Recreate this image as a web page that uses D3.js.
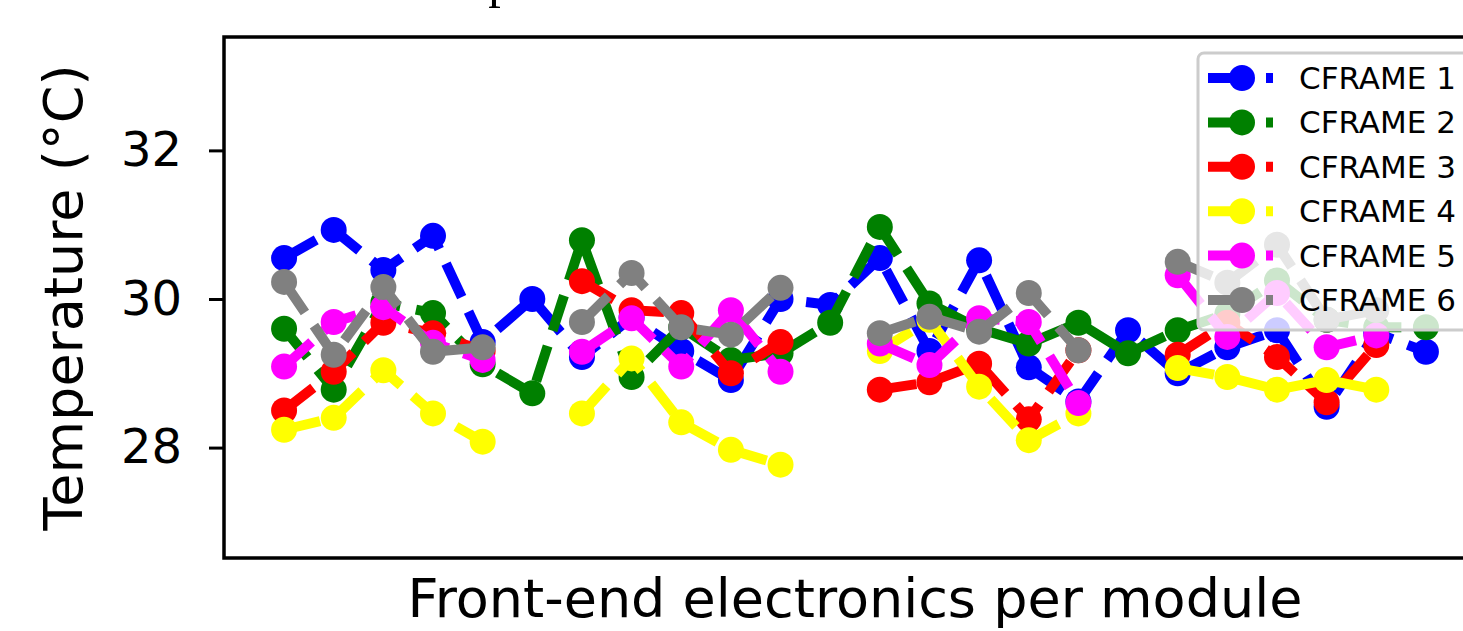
<!DOCTYPE html>
<html>
<head>
<meta charset="utf-8">
<script src="https://cdn.jsdelivr.net/npm/d3@7"></script>
<style>
    body { margin: 0; background: #fff; }
    svg { display: block; }
    text { font-family: "DejaVu Sans", sans-serif; }
</style>
</head>
<body>
<svg id="SVG_CONTAINER" width="1463" height="631"></svg>
<script>
// modules along the x axis (index), null = no reading
const modules = d3.range(24);
const seriesNames = ["CFRAME 1", "CFRAME 2", "CFRAME 3", "CFRAME 4", "CFRAME 5", "CFRAME 6"];
const seriesColours = ["#0000ff", "#008000", "#ff0000", "#ffff00", "#ff00ff", "#808080"];
const yTicks = [28, 30, 32];

const cframe1 = [30.55, 30.93, 30.39, 30.85, 29.42, 30.0, 29.22, 29.75, 29.3, 28.91, 30.0, 29.92,
                 30.55, 29.3, 30.52, 29.08, 28.62, 29.58, 29.0, 29.35, 29.58, 28.55, 29.54, 29.29];
const cframe2 = [29.6, 28.78, 29.95, 29.81, 29.12, 28.73, 30.79, 28.95, 29.62, 29.18, 29.27, 29.68,
                 30.97, 29.94, 29.6, 29.4, 29.68, 29.27, 29.58, 29.8, 30.25, 29.72, 29.62, 29.62];
const cframe3 = [28.5, 29.02, 29.68, 29.54, 29.3, null, 30.24, 29.85, 29.81, 29.0, 29.42, null,
                 28.78, 28.88, 29.13, 28.38, 29.31, null, 29.25, 29.68, 29.22, 28.61, 29.38, null];
const cframe4 = [28.24, 28.4, 29.04, 28.46, 28.08, null, 28.46, 29.2, 28.34, 27.97, 27.77, null,
                 29.3, 29.72, 28.82, 28.1, 28.46, null, 29.07, 28.95, 28.78, 28.91, 28.78, null];
const cframe5 = [29.09, 29.69, 29.89, 29.41, 29.18, null, 29.29, 29.74, 29.09, 29.85, 29.02, null,
                 29.4, 29.11, 29.74, 29.69, 28.6, null, 30.32, 29.49, 30.08, 29.35, 29.51, null];
const cframe6 = [30.23, 29.25, 30.16, 29.29, 29.35, null, 29.69, 30.35, 29.62, 29.52, 30.15, null,
                 29.54, 29.76, 29.56, 30.08, 29.31, null, 30.5, 30.22, 30.73, 29.72, 29.85, null];
const allSeries = [cframe1, cframe2, cframe3, cframe4, cframe5, cframe6];

const MARGIN = { LEFT: 224, RIGHT: 1486, TOP: 37, BOTTOM: 558 };
const LW = 10, DASH = "37,16", R = 13;

let svg = d3.select("#SVG_CONTAINER");

//** SCALES *****************************************
let xScale = d3.scaleLinear()
    .domain([-1.21, 24.21])
    .range([MARGIN.LEFT, MARGIN.RIGHT]);

let yScale = d3.scaleLinear()
    .domain([26.514, 33.526])
    .range([MARGIN.BOTTOM, MARGIN.TOP]);

// title, mostly cut off at the top of the picture
svg.append("text")
    .attr("x", 400)
    .attr("y", -3)
    .style("font-family", "'Liberation Serif', serif")
    .style("font-size", "50px")
    .text("Temperature");

//** LINES *****************************************
let chart = svg.append("g").attr("class", "lines");

let line = d3.line()
    .defined(d => d[1] != null)
    .x(d => xScale(d[0]))
    .y(d => yScale(d[1]));

for (let i = 0; i < allSeries.length; i++) {
    let pts = modules.map(m => [m, allSeries[i][m]]);
    chart.append("path")
        .datum(pts)
        .attr("d", line)
        .attr("fill", "none")
        .attr("stroke", seriesColours[i])
        .attr("stroke-width", LW)
        .attr("stroke-dasharray", DASH);
    chart.append("g").selectAll("circle")
        .data(pts.filter(d => d[1] != null))
        .enter()
        .append("circle")
        .attr("cx", d => xScale(d[0]))
        .attr("cy", d => yScale(d[1]))
        .attr("r", R)
        .attr("fill", seriesColours[i]);
}

//** AXES *****************************************
let yAxis = d3.axisLeft(yScale)
    .tickValues(yTicks)
    .tickFormat(d3.format("d"))
    .tickSize(15)
    .tickSizeOuter(0)
    .tickPadding(27);

let yG = svg.append("g")
    .attr("transform", "translate(" + MARGIN.LEFT + ",0)")
    .call(yAxis);
yG.select(".domain").remove();
yG.selectAll("line").attr("stroke", "#000").attr("stroke-width", 3);
yG.selectAll("text")
    .attr("fill", "#000")
    .style("font-family", "'DejaVu Sans'")
    .style("font-size", "48px");

// frame
svg.append("rect")
    .attr("x", MARGIN.LEFT)
    .attr("y", MARGIN.TOP)
    .attr("width", MARGIN.RIGHT - MARGIN.LEFT)
    .attr("height", MARGIN.BOTTOM - MARGIN.TOP)
    .attr("fill", "none")
    .attr("stroke", "#000")
    .attr("stroke-width", 3.5);

svg.append("text")
    .attr("x", (MARGIN.LEFT + MARGIN.RIGHT) / 2)
    .attr("y", 617)
    .attr("text-anchor", "middle")
    .style("font-size", "54px")
    .text("Front-end electronics per module");

svg.append("text")
    .attr("transform", "translate(82," + ((MARGIN.TOP + MARGIN.BOTTOM) / 2) + ") rotate(-90)")
    .attr("text-anchor", "middle")
    .style("font-size", "54px")
    .text("Temperature (°C)");

//** LEGEND *****************************************
let legend = svg.append("g").attr("class", "legend");
legend.append("rect")
    .attr("x", 1198)
    .attr("y", 53)
    .attr("width", 320)
    .attr("height", 277)
    .attr("rx", 6)
    .attr("fill", "#fff")
    .attr("fill-opacity", 0.8)
    .attr("stroke", "#cccccc")
    .attr("stroke-width", 3);

let yLegend = 78;
for (let i = 0; i < seriesNames.length; i++) {
    legend.append("line")
        .attr("x1", 1208).attr("x2", 1273)
        .attr("y1", yLegend).attr("y2", yLegend)
        .attr("stroke", seriesColours[i])
        .attr("stroke-width", LW)
        .attr("stroke-dasharray", "45,13");
    legend.append("circle")
        .attr("cx", 1242)
        .attr("cy", yLegend)
        .attr("r", R)
        .attr("fill", seriesColours[i]);
    legend.append("text")
        .attr("x", 1299)
        .attr("y", yLegend + 11)
        .style("font-size", "31px")
        .text(seriesNames[i]);
    yLegend += 44.4;
}
</script>
</body>
</html>
